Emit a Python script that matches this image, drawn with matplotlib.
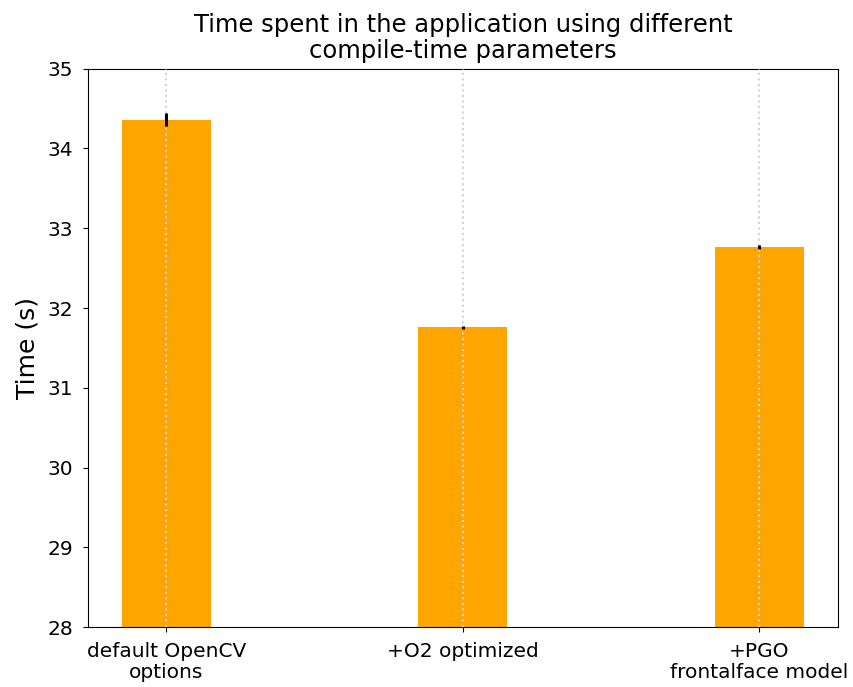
import numpy as np
import matplotlib
matplotlib.use('Agg')
import matplotlib.pyplot as plt

# values
labels = ["default OpenCV\noptions", "+O2 optimized", "+PGO\nfrontalface model"]
times = [34.36, 31.76, 32.77]
errors = [0.08, 0.02, 0.025]

fig, ax = plt.subplots(figsize=(8.54, 6.87), dpi=100)
x = np.arange(len(labels))
ax.bar(x, times, width=0.3, color="orange", zorder=1)
ax.errorbar(x, times, yerr=errors, fmt='none', ecolor="black",
            elinewidth=2.2, capsize=0, zorder=3)
ax.set_xticks(x)
ax.set_xticklabels(labels, fontsize=14.5, linespacing=1.15)
ax.tick_params(axis='x', pad=7)
ax.tick_params(axis='y', labelsize=14.5, pad=7)
ax.set_ylim(28, 35)
ax.grid(axis='x', linestyle=':', color='lightgray', linewidth=1.5, zorder=2)
ax.set_axisbelow(False)
ax.set_ylabel("Time (s)", fontsize=18, labelpad=6)
ax.set_title("Time spent in the application using different\ncompile-time parameters",
             fontsize=17.5, linespacing=1.1, pad=8)
fig.subplots_adjust(left=0.103, right=0.981, top=0.9, bottom=0.087)
fig.savefig("out.png", dpi=100)
